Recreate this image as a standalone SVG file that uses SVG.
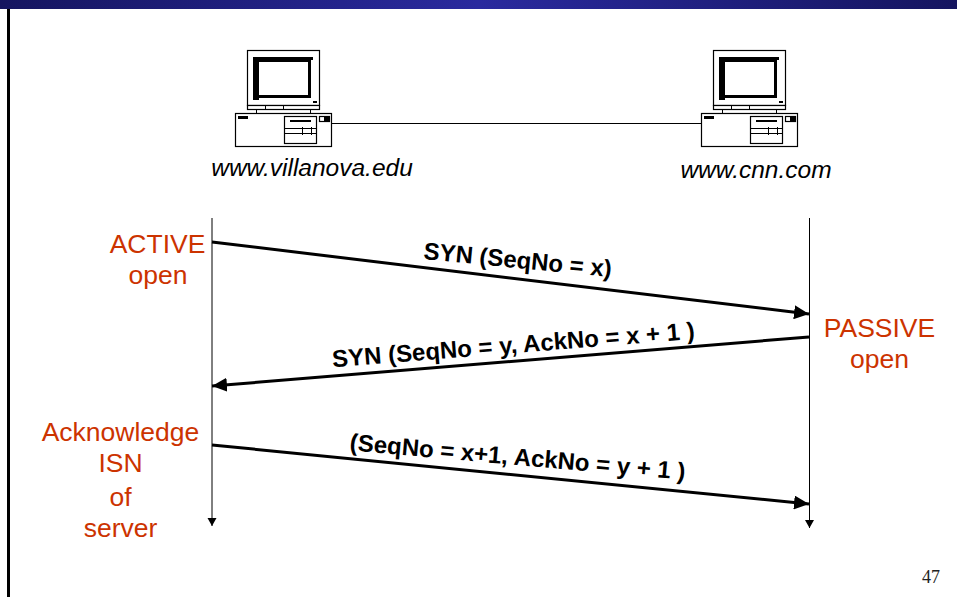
<svg xmlns="http://www.w3.org/2000/svg" width="957" height="597" viewBox="0 0 957 597">
<style>
.o{fill:#fff;stroke:#000;stroke-width:1.2}
.k{fill:#000;stroke:none}
.l{fill:none;stroke:#000;stroke-width:1}
.b{fill:none;stroke:#000;stroke-width:3}
.t{font-family:"Liberation Sans",Arial,sans-serif}
.r{fill:#cc3300;font-size:26.500px;text-anchor:middle}
.i{fill:#000;font-size:24.500px;font-style:italic;text-anchor:middle}
.m{fill:#000;font-size:24px;font-weight:bold;text-anchor:middle}
</style>
<defs>
<linearGradient id="bar" x1="0" y1="0" x2="1" y2="0"><stop offset="0" stop-color="#15155f"/><stop offset="0.5" stop-color="#2a2a9e"/><stop offset="1" stop-color="#15155f"/></linearGradient>
<marker id="big" markerUnits="userSpaceOnUse" markerWidth="16" markerHeight="14" refX="15" refY="7" orient="auto"><path d="M0 0L15 7L0 14Z" fill="#000"/></marker>
<marker id="small" markerUnits="userSpaceOnUse" markerWidth="9" markerHeight="10" refX="8" refY="4.500" orient="auto"><path d="M0 0L8 4.500L0 9Z" fill="#000"/></marker>
<g id="pc">
<rect class="o" x="247.500" y="50.500" width="72" height="55"/>
<path class="k" fill-rule="evenodd" d="M253 57H313V60H311V98H259V100H253ZM259 62V95H308V62Z"/>
<rect class="k" x="313" y="101" width="4" height="2"/>
<rect class="o" x="247.500" y="105.500" width="72" height="4"/>
<path class="l" d="M265.500 105.500V109.500M283.500 105.500V109.500M256.500 109.500V113M310.500 109.500V113"/>
<rect class="o" x="235.500" y="113.500" width="96" height="33"/>
<rect class="k" x="238" y="116" width="10" height="3"/>
<rect class="o" x="284.500" y="116.500" width="32" height="27"/>
<rect class="k" x="290" y="120" width="21" height="2"/>
<path class="l" d="M284.500 128.500H316.500M284.500 133.500H316.500M302.500 127V135M311.500 127V135"/>
<rect class="o" x="319.500" y="116.500" width="10" height="5"/>
<rect class="k" x="324" y="116" width="5" height="6"/>
</g>
</defs>
<rect width="957" height="597" fill="#fff"/>
<rect x="0" y="0" width="957" height="9" fill="url(#bar)"/>
<rect x="7" y="9" width="3" height="588" fill="#000"/>
<g id="connectors">
<path class="l" d="M331 123.500H701"/>
<path class="l" d="M212 218V526" marker-end="url(#small)"/>
<path class="l" d="M809.500 218V528" marker-end="url(#small)"/>
<path class="b" d="M212 242L809 314" marker-end="url(#big)"/>
<path class="b" d="M809 337L212 386" marker-end="url(#big)"/>
<path class="b" d="M212 445L809 504" marker-end="url(#big)"/>
</g>
<g id="client"><use href="#pc"/><text class="t i" x="312" y="176">www.villanova.edu</text></g>
<g id="server"><use href="#pc" x="466"/><text class="t i" x="756" y="178">www.cnn.com</text></g>
<g id="labels">
<text class="t r" x="157.500" y="253">ACTIVE</text>
<text class="t r" x="158" y="284">open</text>
<text class="t r" x="879.500" y="337">PASSIVE</text>
<text class="t r" x="879.500" y="368">open</text>
<text class="t r" x="120.500" y="441">Acknowledge</text>
<text class="t r" x="120.500" y="472">ISN</text>
<text class="t r" x="120.500" y="506">of</text>
<text class="t r" x="120.500" y="537">server</text>
<text class="t m" transform="translate(517 268) rotate(5.500)">SYN (SeqNo = x)</text>
<text class="t m" transform="translate(514 353) rotate(-4.500)">SYN (SeqNo = y, AckNo = x + 1 )</text>
<text class="t m" transform="translate(517 465) rotate(5)">(SeqNo = x+1, AckNo = y + 1 )</text>
<text x="931" y="583" font-family="'Liberation Serif',serif" font-size="18" fill="#222" text-anchor="middle">47</text>
</g>
</svg>
